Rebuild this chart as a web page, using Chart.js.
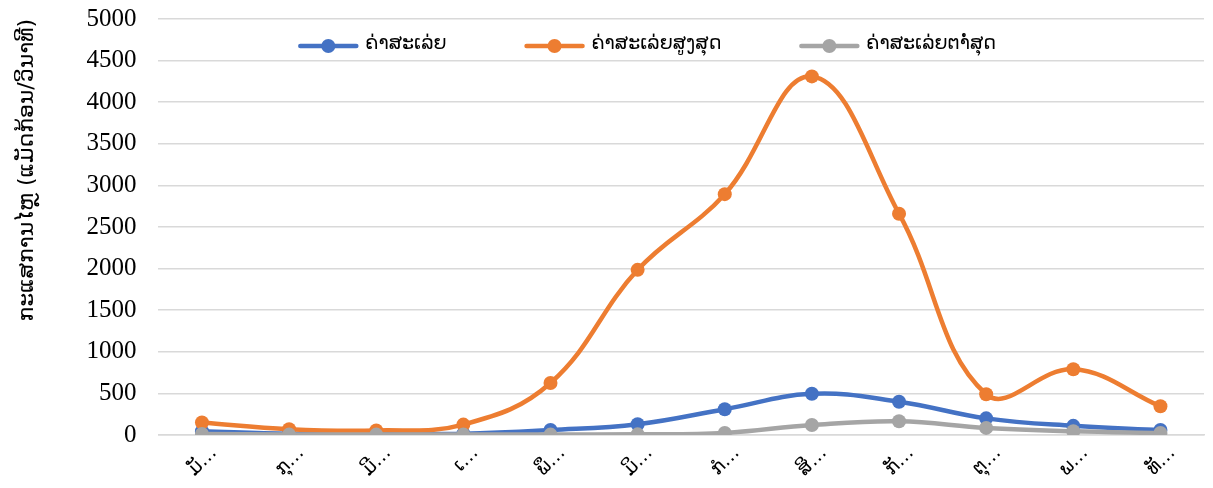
<!DOCTYPE html>
<html>
<head>
<meta charset="utf-8">
<script src="https://cdn.jsdelivr.net/npm/chart.js@4"></script>
<style>
  html, body { margin: 0; padding: 0; background: #fff; }
  #wrap { width: 1213px; height: 488px; position: relative; }
</style>
</head>
<body>
<div id="wrap"><canvas id="flow"></canvas></div>
<script>
// ---- data ---------------------------------------------------------
const MONTHS = ["ມັ…", "ກຸ…", "ມີ…", "ເ…", "ພຶ…", "ມິ…", "ກໍ…", "ສິ…", "ກັ…", "ຕຸ…", "ພ…", "ທັ…"];

const MEAN_FLOW = [45, 15, 15, 15, 60, 130, 310, 495, 400, 200, 110, 60];
const MAX_FLOW  = [150, 70, 55, 125, 625, 1985, 2895, 4310, 2660, 490, 790, 345];
const MIN_FLOW  = [12, 5, 5, 5, 5, 8, 25, 120, 165, 85, 45, 25];

const SERIES_NAMES = ["ຄ່າສະເລ່ຍ", "ຄ່າສະເລ່ຍສູງສຸດ", "ຄ່າສະເລ່ຍຕາໍ່ສຸດ"];
const Y_TITLE = "ກະແສການໄຫຼ (ແມັດກ້ອນ/ວິນາທີ)";
const Y_MIN = 0, Y_MAX = 5000, Y_STEP = 500;

const COLORS = ["#4472C4", "#ED7D31", "#A5A5A5"];

const LAO_FONT = "'DejaVu Sans', 'Noto Sans', sans-serif";
const NUM_FONT = "'Liberation Serif', 'DejaVu Serif', serif";

// legend drawn inside the top of the plot: line + dot, then the name
const topLegend = {
    id: "topLegend",
    afterDatasetsDraw(chart) {
        const ctx = chart.ctx;
        const area = chart.chartArea;
        const y = area.top + 27;
        const lineLen = 56, gap = 9, itemGap = 80;
        ctx.save();
        ctx.font = "19px " + LAO_FONT;
        ctx.textBaseline = "middle";
        const items = chart.data.datasets.map(ds => ({
            ds, w: lineLen + gap + ctx.measureText(ds.label).width
        }));
        const total = items.reduce((s, it) => s + it.w, 0) + itemGap * (items.length - 1);
        let x = (area.left + area.right) / 2 - total / 2 - 33;
        items.forEach(it => {
            const c = it.ds.borderColor;
            ctx.strokeStyle = c;
            ctx.lineWidth = 4.5;
            ctx.lineCap = "round";
            ctx.beginPath(); ctx.moveTo(x, y); ctx.lineTo(x + lineLen, y); ctx.stroke();
            ctx.fillStyle = c;
            ctx.beginPath(); ctx.arc(x + lineLen / 2, y, 7, 0, Math.PI * 2); ctx.fill();
            ctx.fillStyle = "#000";
            ctx.fillText(it.ds.label, x + lineLen + gap, y - 2);
            x += it.w + itemGap;
        });
        ctx.restore();
    }
};

const datasets = [MEAN_FLOW, MAX_FLOW, MIN_FLOW].map((vals, i) => ({
    label: SERIES_NAMES[i],
    data: vals,
    borderColor: COLORS[i],
    backgroundColor: COLORS[i],
    borderWidth: 4.5,
    pointRadius: 7,
    pointHoverRadius: 7,
    pointBorderWidth: 0,
    tension: 0.4,
    order: [2, 1, 0][i]
}));

new Chart(document.getElementById("flow"), {
    type: "line",
    data: { labels: MONTHS, datasets },
    plugins: [topLegend],
    options: {
        responsive: true,
        maintainAspectRatio: false,
        animation: false,
        layout: { padding: { top: 0, right: 9, left: 10, bottom: 0 } },
        plugins: {
            tooltip: { enabled: false },
            legend: { display: false }
        },
        scales: {
            x: {
                offset: true,
                grid: { display: false, drawTicks: false },
                border: { color: "#d9d9d9", width: 1.5 },
                ticks: {
                    autoSkip: false,
                    maxRotation: 45,
                    minRotation: 45,
                    padding: 7,
                    labelOffset: 12,
                    color: "#000",
                    font: { family: LAO_FONT, size: 19 }
                }
            },
            y: {
                min: Y_MIN,
                max: Y_MAX,
                grid: {
                    color: "#d9d9d9",
                    lineWidth: 1.5,
                    drawTicks: true,
                    tickLength: 18,
                    tickColor: "rgba(0,0,0,0)"
                },
                border: { display: false },
                ticks: {
                    stepSize: Y_STEP,
                    padding: 4,
                    color: "#000",
                    font: { family: NUM_FONT, size: 25 },
                    callback: v => String(v)
                },
                title: {
                    display: true,
                    text: Y_TITLE,
                    align: "end",
                    color: "#000",
                    padding: { top: 4, bottom: 42 },
                    font: { family: LAO_FONT, size: 22 }
                }
            }
        }
    }
});
</script>
</body>
</html>
